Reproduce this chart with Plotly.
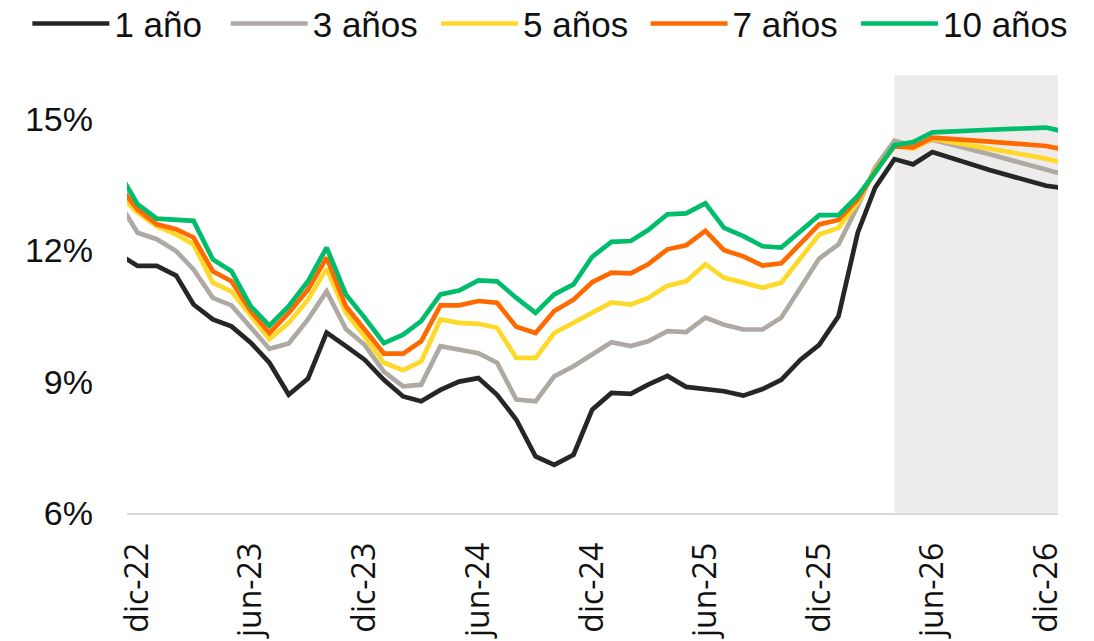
import pandas as pd
import plotly.graph_objects as go

# Monthly data (nov-22 .. jun-26), then quarterly forecast (sep-26, dic-26, mar-27)
fechas = list(pd.date_range('2022-11-01', '2026-06-01', freq='MS').strftime('%Y-%m-%d')) + \
    ['2026-09-01', '2026-12-01', '2027-03-01']

tasa_1 = [11.91, 11.64, 11.64, 11.42, 10.76, 10.42, 10.26, 9.89, 9.43, 8.70, 9.07, 10.12, 9.81,
          9.50, 9.04, 8.66, 8.55, 8.81, 9.00, 9.08, 8.70, 8.13, 7.29, 7.10, 7.33,
          8.36, 8.74, 8.72, 8.93, 9.13, 8.88, 8.84, 8.78, 8.68, 8.83, 9.04, 9.50,
          9.84, 10.49, 12.40, 13.43, 14.08, 13.96, 14.24, 13.83, 13.47, 13.29]
tasa_3 = [13.09, 12.40, 12.25, 11.98, 11.56, 10.91, 10.74, 10.23, 9.75, 9.87, 10.42, 11.06, 10.20,
          9.84, 9.23, 8.89, 8.93, 9.81, 9.73, 9.65, 9.43, 8.59, 8.55, 9.12, 9.35,
          9.62, 9.90, 9.81, 9.92, 10.15, 10.13, 10.46, 10.30, 10.19, 10.19, 10.46, 11.14,
          11.81, 12.13, 13.01, 13.89, 14.50, 14.38, 14.52, 14.19, 13.85, 13.49]
tasa_5 = [13.27, 12.86, 12.55, 12.36, 12.13, 11.26, 11.06, 10.49, 9.97, 10.34, 10.87, 11.58, 10.57,
          10.03, 9.43, 9.26, 9.46, 10.42, 10.34, 10.32, 10.23, 9.54, 9.54, 10.11, 10.34,
          10.58, 10.81, 10.76, 10.91, 11.19, 11.29, 11.68, 11.37, 11.26, 11.14, 11.26, 11.83,
          12.36, 12.51, 13.09, 13.83, 14.38, 14.32, 14.54, 14.32, 14.09, 13.77]
tasa_7 = [13.48, 12.93, 12.59, 12.48, 12.29, 11.52, 11.29, 10.61, 10.11, 10.57, 11.10, 11.83, 10.72,
          10.19, 9.64, 9.64, 9.92, 10.74, 10.74, 10.84, 10.80, 10.25, 10.11, 10.61, 10.87,
          11.27, 11.49, 11.47, 11.68, 12.02, 12.11, 12.44, 12.00, 11.86, 11.65, 11.70, 12.17,
          12.59, 12.69, 13.16, 13.80, 14.37, 14.35, 14.57, 14.48, 14.38, 14.13]
tasa_10 = [13.78, 13.05, 12.72, 12.69, 12.67, 11.79, 11.52, 10.72, 10.28, 10.72, 11.29, 12.06, 10.99,
           10.46, 9.88, 10.07, 10.38, 10.99, 11.08, 11.31, 11.29, 10.91, 10.57, 10.99, 11.22,
           11.85, 12.19, 12.21, 12.46, 12.82, 12.84, 13.07, 12.51, 12.32, 12.09, 12.06, 12.44,
           12.80, 12.80, 13.24, 13.77, 14.40, 14.47, 14.69, 14.75, 14.80, 14.51]

series = ['1 año', '3 años', '5 años', '7 años', '10 años']
colores = ['#262626', '#AEA9A2', '#FFD92A', '#FF6A00', '#00BD6C']
valores = [tasa_1, tasa_3, tasa_5, tasa_7, tasa_10]

tick_fechas = ['2022-12-01', '2023-06-01', '2023-12-01', '2024-06-01', '2024-12-01',
               '2025-06-01', '2025-12-01', '2026-06-01', '2026-12-01']
tick_textos = ['dic-22', 'jun-23', 'dic-23', 'jun-24', 'dic-24', 'jun-25', 'dic-25', 'jun-26', 'dic-26']
y_ticks = [6, 9, 12, 15]
y_textos = ['6%', '9%', '12%', '15%']

inicio_proyeccion = '2026-04-01'
rango_x = ['2022-11-14', '2026-12-20']

# one small legend per series so the entries sit where the original has them
legend_x = [-0.107, 0.106, 0.332, 0.557, 0.783]
legend_ids = ['legend', 'legend2', 'legend3', 'legend4', 'legend5']

fig = go.Figure()

for nombre, color, vals, lg in zip(series, colores, valores, legend_ids):
    fig.add_trace(go.Scatter(x=fechas, y=vals, name=nombre, mode='lines', legend=lg,
                             line=dict(color=color, width=4.7)))

# shaded forecast area
fig.add_shape(type='rect', xref='x', yref='paper', x0=inicio_proyeccion, x1=rango_x[1],
              y0=0, y1=1, fillcolor='#EDECEA', line_width=0, layer='below')

legends = {}
for lg, lx in zip(legend_ids, legend_x):
    legends[lg] = dict(orientation='h', x=lx, xanchor='left', y=1.117, yanchor='middle',
                       font=dict(family='Liberation Sans', size=35, color='#111111'),
                       itemwidth=77, bgcolor='rgba(0,0,0,0)')

# page body has an 8px margin, so the figure is sized to fill the rest of the window
fig.update_layout(
    width=1086, height=633,
    margin=dict(l=119, r=36, t=67, b=128, autoexpand=False),
    plot_bgcolor='white', paper_bgcolor='white',
    showlegend=True,
    **legends
)
fig.update_xaxes(type='date', range=rango_x, tickvals=tick_fechas, ticktext=tick_textos,
                 tickangle=-90, tickfont=dict(family='Open Sans', size=32, color='#111111'),
                 showgrid=False, zeroline=False, showline=True, linecolor='#D9D9D9', linewidth=2,
                 ticks='', ticklabelstandoff=15)
fig.update_yaxes(range=[6, 16], tickvals=y_ticks, ticktext=y_textos,
                 tickfont=dict(family='Liberation Sans', size=34, color='#111111'),
                 showgrid=False, zeroline=False, showline=False, ticks='', ticklabelstandoff=33)

fig.write_html('out.html')
